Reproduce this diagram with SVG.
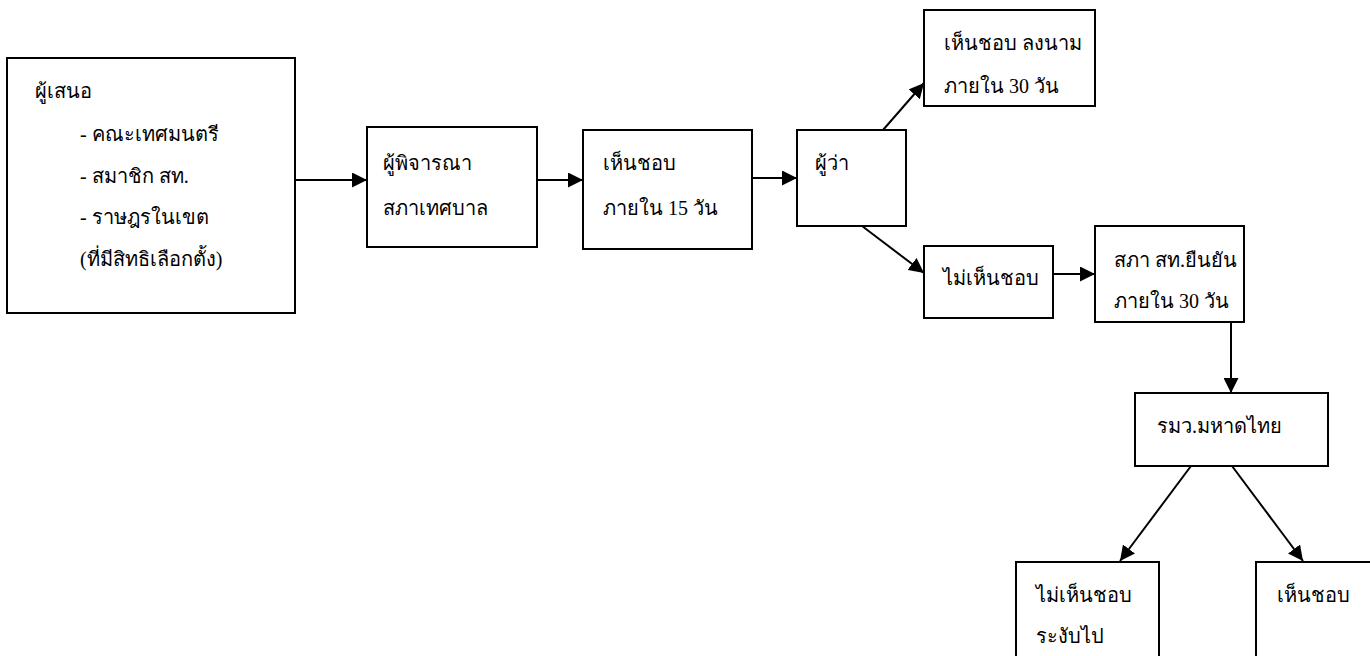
<svg xmlns="http://www.w3.org/2000/svg" width="1370" height="656" viewBox="0 0 1370 656">
<style>
.box{fill:#fff;stroke:#000;stroke-width:2}
.t{font-family:"Liberation Serif","DejaVu Serif","Noto Sans",serif;font-size:20px;fill:#000}
.c{stroke:#000;stroke-width:2;fill:none;marker-end:url(#ah)}
</style>
<defs>
<marker id="ah" viewBox="0 0 10 10" refX="10" refY="5" markerWidth="15" markerHeight="15" markerUnits="userSpaceOnUse" orient="auto">
<path d="M0,0 L10,5 L0,10 z" fill="#000"/>
</marker>
</defs>
<rect width="1370" height="656" fill="#fff"/>
<g id="connectors">
<line class="c" x1="296" y1="180" x2="367" y2="180"/>
<line class="c" x1="537" y1="180" x2="583" y2="180"/>
<line class="c" x1="752" y1="178" x2="797" y2="178"/>
<line class="c" x1="883" y1="130" x2="924" y2="83"/>
<line class="c" x1="862" y1="226" x2="924" y2="273"/>
<line class="c" x1="1053" y1="274" x2="1095" y2="274"/>
<line class="c" x1="1231" y1="322" x2="1231" y2="393"/>
<line class="c" x1="1191" y1="466" x2="1120" y2="561"/>
<line class="c" x1="1232" y1="466" x2="1303" y2="561"/>
</g>
<g id="n1"><rect class="box" x="7" y="58" width="288" height="255"/>
<text class="t" x="35" y="98">ผู้เสนอ</text>
<text class="t" x="80" y="141">-  คณะเทศมนตรี</text>
<text class="t" x="80" y="183">-  สมาชิก สท.</text>
<text class="t" x="80" y="224">- ราษฎรในเขต</text>
<text class="t" x="80" y="266">(ที่มีสิทธิเลือกตั้ง)</text></g>
<g id="n2"><rect class="box" x="367" y="127" width="170" height="120"/>
<text class="t" x="383" y="170">ผู้พิจารณา</text>
<text class="t" x="383" y="215">สภาเทศบาล</text></g>
<g id="n3"><rect class="box" x="583" y="130" width="169" height="119"/>
<text class="t" x="603" y="170">เห็นชอบ</text>
<text class="t" x="603" y="215">ภายใน 15 วัน</text></g>
<g id="n4"><rect class="box" x="797" y="130" width="109" height="96"/>
<text class="t" x="815" y="170">ผู้ว่า</text></g>
<g id="n5"><rect class="box" x="924" y="10" width="171" height="96"/>
<text class="t" x="944" y="50">เห็นชอบ ลงนาม</text>
<text class="t" x="944" y="93">ภายใน 30 วัน</text></g>
<g id="n6"><rect class="box" x="924" y="246" width="129" height="72"/>
<text class="t" x="943" y="285">ไม่เห็นชอบ</text></g>
<g id="n7"><rect class="box" x="1095" y="226" width="149" height="96"/>
<text class="t" x="1114" y="267">สภา สท.ยืนยัน</text>
<text class="t" x="1114" y="308">ภายใน 30 วัน</text></g>
<g id="n8"><rect class="box" x="1135" y="393" width="193" height="73"/>
<text class="t" x="1157" y="433">รมว.มหาดไทย</text></g>
<g id="n9"><rect class="box" x="1016" y="562" width="143" height="100"/>
<text class="t" x="1036" y="602">ไม่เห็นชอบ</text>
<text class="t" x="1036" y="643">ระงับไป</text></g>
<g id="n10"><rect class="box" x="1256" y="562" width="120" height="100"/>
<text class="t" x="1277" y="602">เห็นชอบ</text></g>
</svg>
